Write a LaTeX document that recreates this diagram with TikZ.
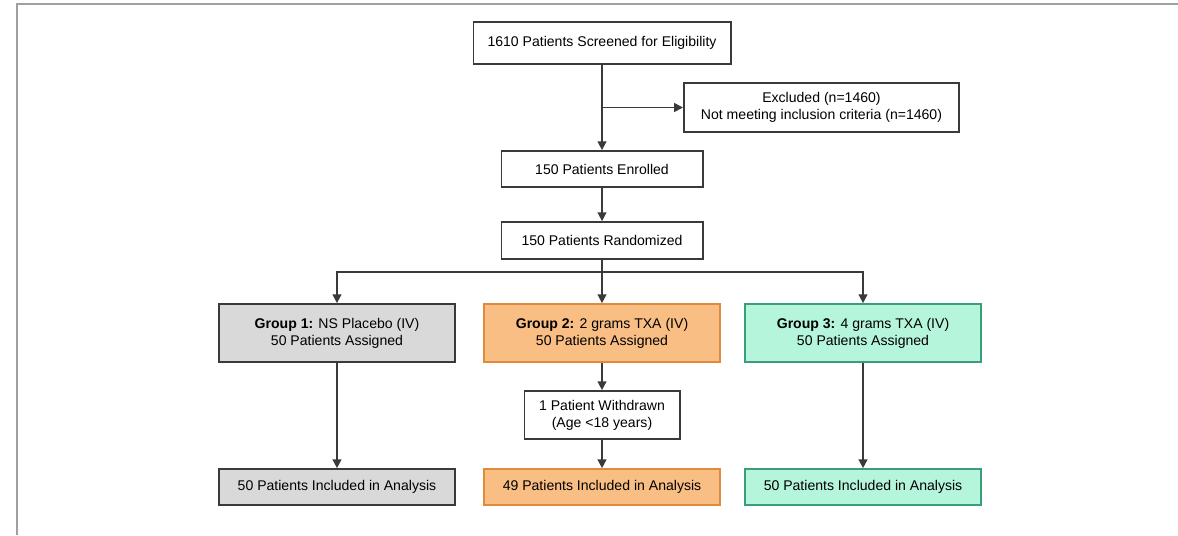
\documentclass[tikz,border=0pt]{standalone}
\usepackage{fontspec}
\setmainfont{Liberation Sans}
\usetikzlibrary{positioning, calc, arrows.meta}

\definecolor{boxline}{HTML}{3A3A3A}
\definecolor{framegray}{HTML}{A0A0A0}
\definecolor{placebofill}{HTML}{D9D9D9}
\definecolor{lowfill}{HTML}{F9BE83}
\definecolor{lowline}{HTML}{E08A3C}
\definecolor{highfill}{HTML}{B5F5DC}
\definecolor{highline}{HTML}{3A9E7A}

\begin{document}
\begin{tikzpicture}[
    % Node styles
    box/.style={
        draw=boxline, line width=1pt, fill=white, align=center,
        inner sep=2pt, font=\fontsize{8}{9.7}\selectfont
    },
    grp/.style={box, minimum width=4.725cm, minimum height=1.165cm},
    res/.style={box, minimum width=4.725cm, minimum height=0.725cm},
    % Group colours
    placebo/.style={fill=placebofill, draw=boxline},
    lowdose/.style={fill=lowfill, draw=lowline},
    highdose/.style={fill=highfill, draw=highline},
    % Edge styles
    edge/.style={draw=boxline, line width=0.9pt},
    arrow/.style={edge, -{Triangle[length=5pt, width=5pt]}},
]

\useasboundingbox (0,0) rectangle (23.56,-10.7);

% Page frame
\draw[framegray, line width=0.8pt] (0.34,-10.7) -- (0.34,-0.08) -- (23.56,-0.08);

% ===== SCREENING =====
\node[box, minimum width=5.145cm, minimum height=0.85cm] (screen) at (12.04,-0.86)
    {1610 Patients Screened for Eligibility};

\node[box, minimum width=5.505cm, minimum height=0.985cm] (excl) at (16.43,-2.15)
    {Excluded (n=1460)\\Not meeting inclusion criteria (n=1460)};

\node[box, minimum width=4.025cm, minimum height=0.725cm, below=1.7cm of screen] (enrol)
    {150 Patients Enrolled};

\node[box, minimum width=4.025cm, minimum height=0.745cm, below=0.66cm of enrol] (rand)
    {150 Patients Randomized};

\draw[arrow] (screen) -- (enrol);
\draw[arrow] (screen.south |- excl.west) -- (excl.west);
\draw[arrow] (enrol) -- (rand);

% ===== GROUPS =====
\node[grp, lowdose, below=0.86cm of rand] (grp-2)
    {\textbf{Group 2:} 2 grams TXA (IV)\\50 Patients Assigned};
\node[grp, placebo, left=0.54cm of grp-2] (grp-1)
    {\textbf{Group 1:} NS Placebo (IV)\\50 Patients Assigned};
\node[grp, highdose, right=0.46cm of grp-2] (grp-3)
    {\textbf{Group 3:} 4 grams TXA (IV)\\50 Patients Assigned};

% Split line below randomization
\coordinate[below=0.24cm of rand.south] (split);
\draw[edge] (rand) -- (split);
\draw[arrow] (split) -| (grp-1.north);
\draw[arrow] (split) -- (grp-2.north);
\draw[arrow] (split) -| (grp-3.north);

% Withdrawal in group 2
\node[box, minimum width=3.105cm, minimum height=0.965cm, below=0.54cm of grp-2] (wd)
    {1 Patient Withdrawn\\(Age <18 years)};

% ===== ANALYSIS =====
\node[res, placebo, below=2.1cm of grp-1] (res-1) {50 Patients Included in Analysis};
\node[res, lowdose, below=0.56cm of wd] (res-2) {49 Patients Included in Analysis};
\node[res, highdose, below=2.1cm of grp-3] (res-3) {50 Patients Included in Analysis};

\draw[arrow] (grp-1) -- (res-1);
\draw[arrow] (grp-2) -- (wd);
\draw[arrow] (wd) -- (res-2);
\draw[arrow] (grp-3) -- (res-3);

\end{tikzpicture}
\end{document}
